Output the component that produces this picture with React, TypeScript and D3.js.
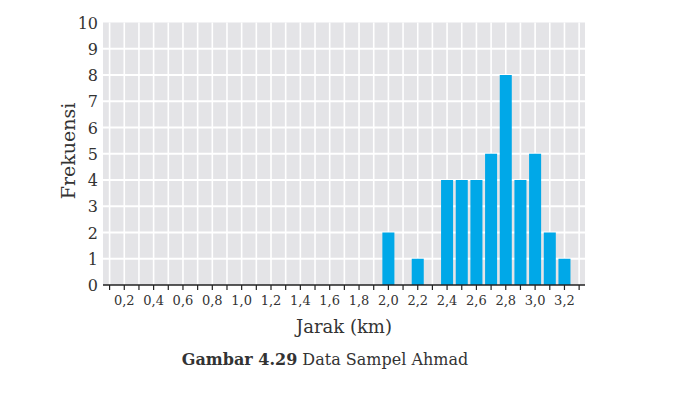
import { useRef, useEffect } from 'react';
import * as d3 from 'd3';

// Jarak (km) classes and their frequencies
const JARAK = [2.0, 2.2, 2.4, 2.5, 2.6, 2.7, 2.8, 2.9, 3.0, 3.1, 3.2];
const FREKUENSI = [2, 1, 4, 4, 4, 5, 8, 4, 5, 2, 1];
const X_TICKS = [0.1, 0.2, 0.3, 0.4, 0.5, 0.6, 0.7, 0.8, 0.9, 1.0, 1.1, 1.2, 1.3, 1.4, 1.5, 1.6, 1.7, 1.8, 1.9, 2.0, 2.1, 2.2, 2.3, 2.4, 2.5, 2.6, 2.7, 2.8, 2.9, 3.0, 3.1, 3.2, 3.3];
const X_LABELS = ['0,2', '0,4', '0,6', '0,8', '1,0', '1,2', '1,4', '1,6', '1,8', '2,0', '2,2', '2,4', '2,6', '2,8', '3,0', '3,2'];
const Y_TICKS = [0, 1, 2, 3, 4, 5, 6, 7, 8, 9, 10];

export default function App() {
  const ref = useRef<SVGSVGElement>(null);

  useEffect(() => {
    const svg = ref.current;
    if (!svg) return;
    const W = 700, H = 393;
    const left = 103, right = 585, top = 22.5, bottom = 285;
    const font = '"DejaVu Serif", serif';

    d3.select(svg).selectAll('*').remove();
    const g = d3.select(svg).attr('viewBox', `0 0 ${W} ${H}`).append('g');

    const x = d3.scaleLinear().domain([0.055, 3.34]).range([left, right]);
    const y = d3.scaleLinear().domain([0, 10]).range([bottom, top]);

    // Panel
    g.append('rect')
      .attr('x', left).attr('y', top).attr('width', right - left).attr('height', bottom - top)
      .attr('fill', '#e4e4e7');

    // Grid
    X_TICKS.forEach((v) => {
      g.append('line')
        .attr('x1', x(v)).attr('x2', x(v)).attr('y1', top).attr('y2', bottom)
        .attr('stroke', '#ffffff').attr('stroke-width', 1.6);
    });
    Y_TICKS.slice(1, -1).forEach((v) => {
      g.append('line')
        .attr('x1', left).attr('x2', right).attr('y1', y(v)).attr('y2', y(v))
        .attr('stroke', '#ffffff').attr('stroke-width', 2);
    });

    // Bars
    const bw = x(0.082) - x(0);
    JARAK.forEach((d, i) => {
      g.append('rect')
        .attr('x', x(d) - bw / 2).attr('y', y(FREKUENSI[i]))
        .attr('width', bw).attr('height', y(0) - y(FREKUENSI[i]))
        .attr('fill', '#00a8e8');
    });

    // X axis
    g.append('line')
      .attr('x1', left).attr('x2', right).attr('y1', bottom).attr('y2', bottom)
      .attr('stroke', '#222').attr('stroke-width', 1.5);
    X_TICKS.forEach((v) => {
      g.append('line')
        .attr('x1', x(v)).attr('x2', x(v)).attr('y1', bottom).attr('y2', bottom + 5)
        .attr('stroke', '#222').attr('stroke-width', 1.2);
    });
    X_LABELS.forEach((t) => {
      const v = parseFloat(t.replace(',', '.'));
      g.append('text')
        .attr('x', x(v)).attr('y', 305)
        .attr('text-anchor', 'middle').attr('font-size', 13).attr('font-family', font)
        .attr('fill', '#333').text(t);
    });

    // Y ticks
    Y_TICKS.forEach((v) => {
      g.append('text')
        .attr('x', 98).attr('y', y(v) + 6)
        .attr('text-anchor', 'end').attr('font-size', 16).attr('font-family', font)
        .attr('fill', '#333').text(v);
    });

    // Axis titles
    g.append('text')
      .attr('x', 344).attr('y', 333)
      .attr('text-anchor', 'middle').attr('font-size', 18).attr('font-family', font)
      .attr('fill', '#333').text('Jarak (km)');
    g.append('text')
      .attr('transform', 'translate(75,151) rotate(-90)')
      .attr('text-anchor', 'middle').attr('font-size', 19).attr('font-family', font)
      .attr('fill', '#333').text('Frekuensi');

    // Caption
    const cap = g.append('text')
      .attr('x', 325).attr('y', 365)
      .attr('text-anchor', 'middle').attr('font-size', 16).attr('font-family', font)
      .attr('fill', '#333');
    cap.append('tspan').attr('font-weight', 'bold').text('Gambar 4.29');
    cap.append('tspan').text(' Data Sampel Ahmad');
  }, []);

  return (
    <svg
      ref={ref}
      width={700}
      height={393}
      style={{ position: 'absolute', left: 0, top: 0, background: '#fff' }}
    />
  );
}
